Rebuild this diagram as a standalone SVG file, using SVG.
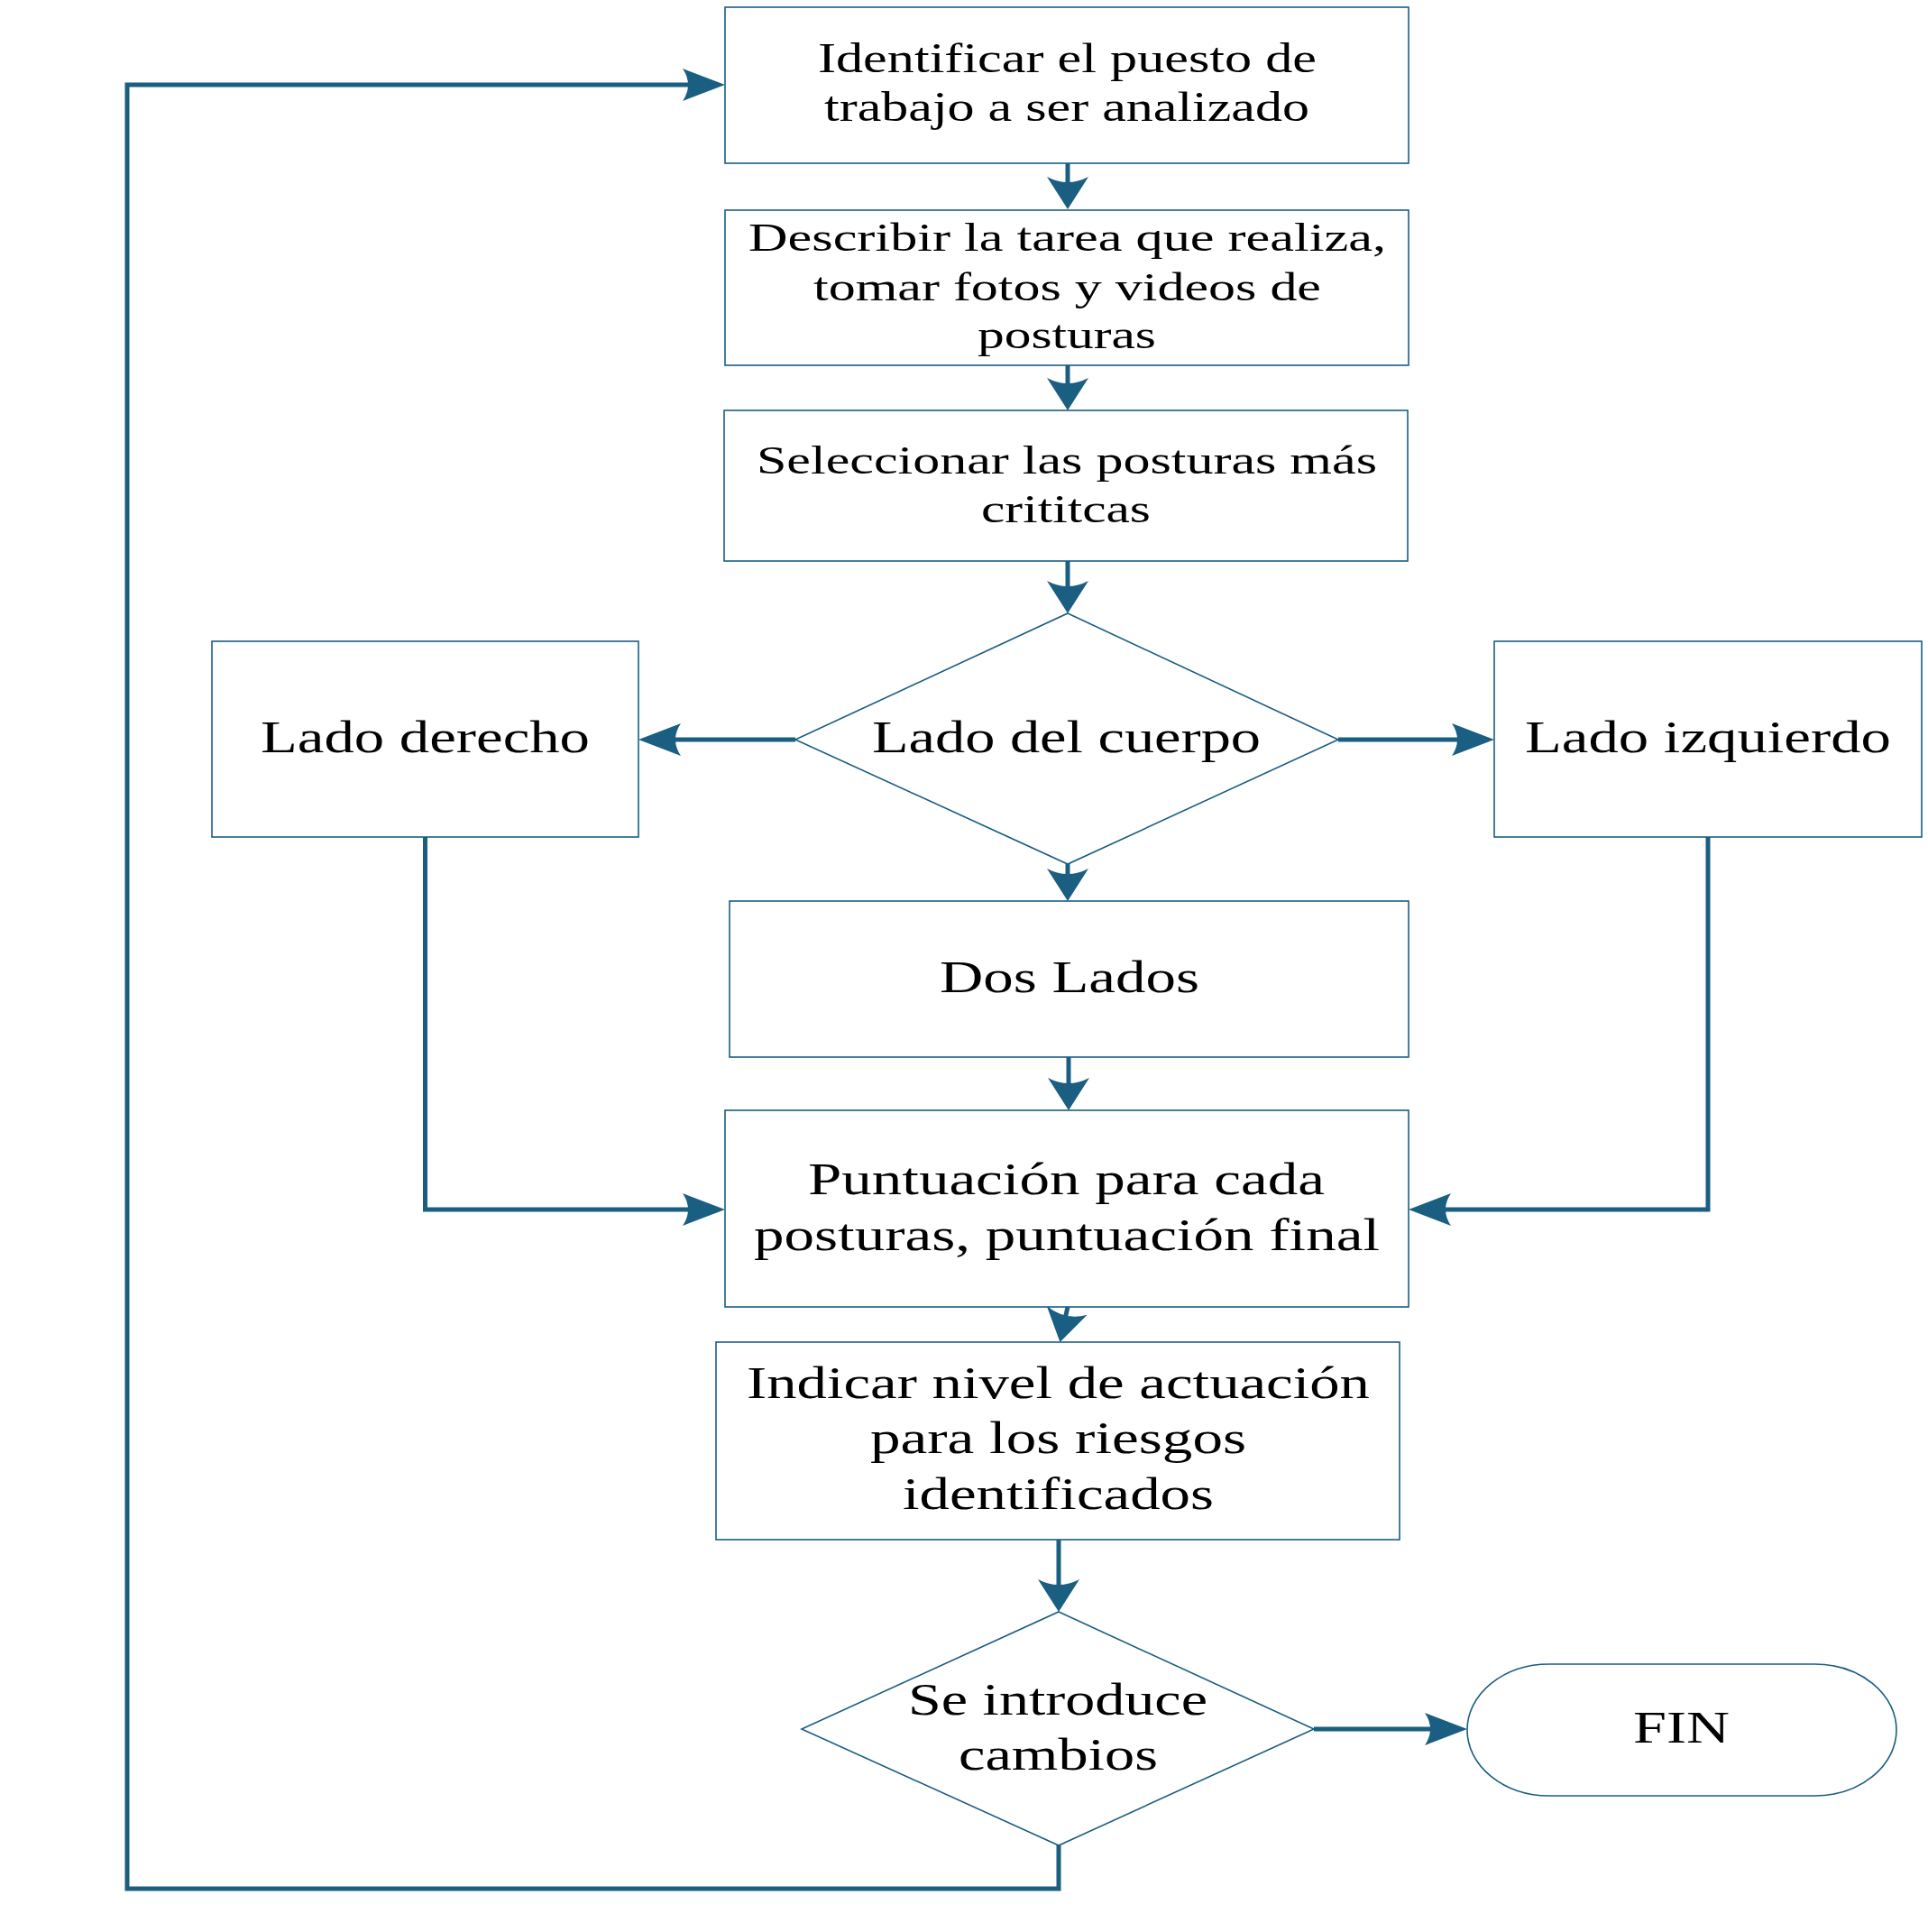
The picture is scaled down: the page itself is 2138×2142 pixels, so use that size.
<svg xmlns="http://www.w3.org/2000/svg" width="2138" height="2142" viewBox="0 0 2138 2142">
<style>
.box{fill:#ffffff;stroke:#1a5e82;stroke-width:1.6}
.conn{fill:none;stroke:#1a5e82;stroke-width:5;stroke-linejoin:miter}
.t{font-family:"Liberation Serif","Times New Roman",serif;fill:#000000}
.s47{font-size:47px}.s45{font-size:45px}.s50{font-size:50px}
</style>
<defs>
<marker id="aV" markerUnits="userSpaceOnUse" markerWidth="60" markerHeight="60" refX="12" refY="0" orient="auto" overflow="visible">
<path d="M0,-23 L36,0 L0,23 Q12,0 0,-23 Z" fill="#1a5e82"/>
</marker>
<marker id="aH" markerUnits="userSpaceOnUse" markerWidth="60" markerHeight="60" refX="12" refY="0" orient="auto" overflow="visible">
<path d="M0,-18 L47,0 L0,18 Q12,0 0,-18 Z" fill="#1a5e82"/>
</marker>
</defs>
<rect width="2138" height="2142" fill="#ffffff"/>
<g id="connectors">
<path class="conn" d="M1184,181 V208" marker-end="url(#aV)"/>
<path class="conn" d="M1184,405 V431" marker-end="url(#aV)"/>
<path class="conn" d="M1184,622 V656" marker-end="url(#aV)"/>
<path class="conn" d="M882,820 H743" marker-end="url(#aH)"/>
<path class="conn" d="M1484,820 H1622" marker-end="url(#aH)"/>
<path class="conn" d="M1184,958 V975" marker-end="url(#aV)"/>
<path class="conn" d="M1185,1172 V1207" marker-end="url(#aV)"/>
<path class="conn" d="M471.5,928 V1341 H769" marker-end="url(#aH)"/>
<path class="conn" d="M1894,928 V1341 H1597" marker-end="url(#aH)"/>
<path class="conn" d="M1184,1449 L1180.6,1464.5" marker-end="url(#aV)"/>
<path class="conn" d="M1174,1707 V1763" marker-end="url(#aV)"/>
<path class="conn" d="M1457,1917 H1592" marker-end="url(#aH)"/>
<path class="conn" d="M1174,2046 V2094 H141 V94 H769" marker-end="url(#aH)"/>
</g>
<g id="n1">
<rect class="box" x="804" y="8" width="758" height="173"/>
<text class="t s47" x="907" y="80" textLength="553" lengthAdjust="spacingAndGlyphs">Identificar el puesto de</text>
<text class="t s47" x="914" y="134" textLength="538" lengthAdjust="spacingAndGlyphs">trabajo a ser analizado</text>
</g>
<g id="n2">
<rect class="box" x="804" y="233" width="758" height="172"/>
<text class="t s45" x="830" y="278" textLength="707" lengthAdjust="spacingAndGlyphs">Describir la tarea que realiza,</text>
<text class="t s45" x="902" y="333" textLength="563" lengthAdjust="spacingAndGlyphs">tomar fotos y videos de</text>
<text class="t s45" x="1084" y="386" textLength="198" lengthAdjust="spacingAndGlyphs">posturas</text>
</g>
<g id="n3">
<rect class="box" x="803" y="455" width="758" height="167"/>
<text class="t s45" x="839" y="525" textLength="688" lengthAdjust="spacingAndGlyphs">Seleccionar las posturas más</text>
<text class="t s45" x="1088" y="579" textLength="188" lengthAdjust="spacingAndGlyphs">crititcas</text>
</g>
<g id="d1">
<polygon class="box" points="1184,680 1484,820 1184,958 882,820"/>
<text class="t s50" x="967" y="834" textLength="431" lengthAdjust="spacingAndGlyphs">Lado del cuerpo</text>
</g>
<g id="nDer">
<rect class="box" x="235" y="711" width="473" height="217"/>
<text class="t s50" x="289" y="834" textLength="365" lengthAdjust="spacingAndGlyphs">Lado derecho</text>
</g>
<g id="nIzq">
<rect class="box" x="1657" y="711" width="474" height="217"/>
<text class="t s50" x="1691" y="834" textLength="406" lengthAdjust="spacingAndGlyphs">Lado izquierdo</text>
</g>
<g id="nDos">
<rect class="box" x="809" y="999" width="753" height="173"/>
<text class="t s50" x="1042" y="1100" textLength="288" lengthAdjust="spacingAndGlyphs">Dos Lados</text>
</g>
<g id="nPunt">
<rect class="box" x="804" y="1231" width="758" height="218"/>
<text class="t s50" x="896" y="1324" textLength="573" lengthAdjust="spacingAndGlyphs">Puntuación para cada</text>
<text class="t s50" x="836" y="1386" textLength="694" lengthAdjust="spacingAndGlyphs">posturas, puntuación final</text>
</g>
<g id="nInd">
<rect class="box" x="794" y="1488" width="758" height="219"/>
<text class="t s50" x="828" y="1550" textLength="691" lengthAdjust="spacingAndGlyphs">Indicar nivel de actuación</text>
<text class="t s50" x="965" y="1611" textLength="417" lengthAdjust="spacingAndGlyphs">para los riesgos</text>
<text class="t s50" x="1001" y="1673" textLength="345" lengthAdjust="spacingAndGlyphs">identificados</text>
</g>
<g id="d2">
<polygon class="box" points="1174,1787 1457,1917 1174,2046 889,1917"/>
<text class="t s50" x="1007" y="1901" textLength="332" lengthAdjust="spacingAndGlyphs">Se introduce</text>
<text class="t s50" x="1063" y="1962" textLength="221" lengthAdjust="spacingAndGlyphs">cambios</text>
</g>
<g id="nFin">
<rect class="box" x="1627" y="1845" width="476" height="146" rx="91" ry="73"/>
<text class="t s50" x="1811" y="1932" textLength="107" lengthAdjust="spacingAndGlyphs">FIN</text>
</g>
</svg>
